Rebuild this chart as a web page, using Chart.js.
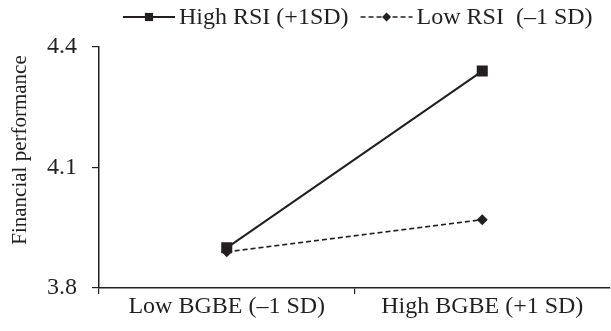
<!DOCTYPE html>
<html>
<head>
<meta charset="utf-8">
<script src="https://cdn.jsdelivr.net/npm/chart.js@4/dist/chart.umd.min.js"></script>
<style>
    html, body { margin: 0; padding: 0; background: #fff; }
    #wrap { width: 611px; height: 331px; }
</style>
</head>
<body>
<div id="wrap"><canvas id="myChart" width="611" height="331"></canvas></div>
<script>
const categories = ['Low BGBE (\u20131 SD)', 'High BGBE (+1 SD)'];
const seriesNames = ['High RSI (+1SD)', 'Low RSI  (\u20131 SD)'];
const highRsi = [3.90, 4.34];
const lowRsi = [3.89, 3.97];
const yTicks = [3.8, 4.1, 4.4];
const yTitle = 'Financial performance';

const ink = '#231f20';
const fontFamily = '"Liberation Serif", "Times New Roman", serif';

// legend + y title drawn by hand so the legend sample can show line and marker together
const legendAndTitle = {
    id: 'legendAndTitle',
    afterDraw(chart) {
        let ctx = chart.ctx;
        let area = chart.chartArea;
        ctx.save();
        ctx.font = '24px ' + fontFamily;
        ctx.fillStyle = ink;
        ctx.textBaseline = 'middle';

        let x = area.left + 24;
        let y = 17;
        chart.data.datasets.forEach(ds => {
            ctx.strokeStyle = ds.borderColor;
            ctx.lineWidth = ds.borderWidth;
            ctx.setLineDash(ds.borderDash || []);
            ctx.beginPath();
            ctx.moveTo(x, y);
            ctx.lineTo(x + 52, y);
            ctx.stroke();
            ctx.setLineDash([]);
            ctx.fillStyle = ds.pointBackgroundColor;
            Chart.helpers.drawPoint(ctx, {
                pointStyle: ds.pointStyle,
                radius: ds.legendRadius,
                rotation: 0,
                borderWidth: 0
            }, x + 26, y);
            ctx.fillStyle = ink;
            ctx.textAlign = 'left';
            ctx.fillText(ds.label, x + 56, y + 1);
            x += 56 + ctx.measureText(ds.label).width + 12;
        });

        ctx.font = '21px ' + fontFamily;
        ctx.translate(20, 150);
        ctx.rotate(-Math.PI / 2);
        ctx.textAlign = 'center';
        ctx.fillText(yTitle, 0, 0);
        ctx.restore();
    }
};

let ctx = document.getElementById('myChart').getContext('2d');
new Chart(ctx, {
    type: 'line',
    data: {
        labels: categories,
        datasets: [{
            label: seriesNames[0],
            data: highRsi,
            borderColor: ink,
            borderWidth: 2,
            pointStyle: 'rect',
            pointRadius: 7.8,
            legendRadius: 5.8,
            pointBackgroundColor: ink,
            pointBorderColor: ink,
            pointBorderWidth: 0,
            backgroundColor: ink
        }, {
            label: seriesNames[1],
            data: lowRsi,
            borderColor: ink,
            borderWidth: 1.6,
            borderDash: [5, 3],
            pointStyle: 'rectRot',
            pointRadius: 5.5,
            legendRadius: 4.5,
            pointBackgroundColor: ink,
            pointBorderColor: ink,
            pointBorderWidth: 0,
            backgroundColor: ink
        }]
    },
    options: {
        responsive: false,
        animation: false,
        layout: {
            autoPadding: false,
            padding: { top: 47, right: 1, left: 0, bottom: 0 }
        },
        plugins: {
            legend: { display: false },
            tooltip: { enabled: false }
        },
        scales: {
            x: {
                offset: true,
                grid: {
                    offset: true,
                    drawOnChartArea: false,
                    tickLength: 6,
                    tickColor: c => c.type === 'tick' ? ink : 'rgba(0,0,0,0)',
                    lineWidth: 1.2
                },
                border: { color: ink, width: 1.5 },
                ticks: {
                    color: ink,
                    font: { family: fontFamily, size: 24 },
                    padding: -2,
                    maxRotation: 0
                },
                afterFit: s => {
                    s.height = 43;
                    s.paddingLeft = 0;
                    s.paddingRight = 0;
                }
            },
            y: {
                min: 3.8,
                max: 4.4,
                afterBuildTicks: s => { s.ticks = yTicks.map(v => ({ value: v })); },
                grid: {
                    drawOnChartArea: false,
                    tickLength: 7,
                    tickColor: ink,
                    lineWidth: 1.2
                },
                border: { color: ink, width: 1.5 },
                ticks: {
                    color: ink,
                    font: { family: fontFamily, size: 24 },
                    padding: 15,
                    callback: v => v.toFixed(1)
                },
                afterFit: s => { s.width = 99; }
            }
        }
    },
    plugins: [legendAndTitle]
});
</script>
</body>
</html>
